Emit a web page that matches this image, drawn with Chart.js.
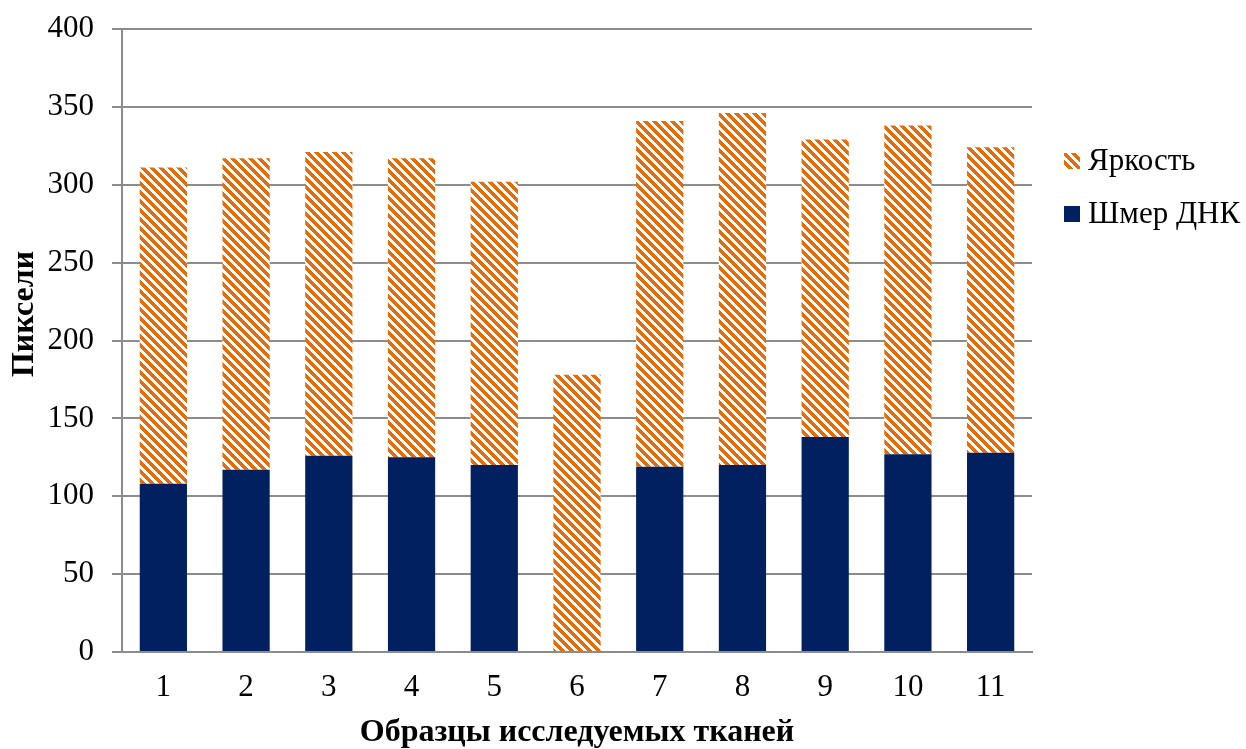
<!DOCTYPE html>
<html>
<head>
<meta charset="utf-8">
<script src="https://cdn.jsdelivr.net/npm/chart.js@4/dist/chart.umd.min.js"></script>
<style>
  html, body { margin: 0; padding: 0; background: #ffffff; }
  #wrap { width: 1246px; height: 749px; position: relative; }
</style>
</head>
<body>
<div id="wrap"><canvas id="c" width="1246" height="749"></canvas></div>
<script>
// Tissue samples and their pixel measurements
const categories = ['1', '2', '3', '4', '5', '6', '7', '8', '9', '10', '11'];
const dnaSmear   = [108, 117, 126, 125, 120, 0, 119, 120, 138, 127, 128];
const brightness = [203, 200, 195, 192, 182, 178, 222, 226, 191, 211, 196];
const yTicks     = [0, 50, 100, 150, 200, 250, 300, 350, 400];

const seriesNames = { smear: 'Шмер ДНК', bright: 'Яркость' };
const axisTitles  = { x: 'Образцы исследуемых тканей', y: 'Пиксели' };

const NAVY = '#002060';
const ORANGE = '#E46C0A';
const GRID = '#8c8c8c';
const FONT = '"Liberation Serif", "Times New Roman", serif';

// Diagonal hatch (top-left to bottom-right stripes)
function makeHatch() {
  const size = 9;
  const pc = document.createElement('canvas');
  pc.width = size; pc.height = size;
  const g = pc.getContext('2d');
  g.fillStyle = '#ffffff';
  g.fillRect(0, 0, size, size);
  g.fillStyle = ORANGE;
  for (let y = 0; y < size; y++) {
    for (let x = 0; x < size; x++) {
      if (((x - y) % size + size) % size < 5) g.fillRect(x, y, 1, 1);
    }
  }
  return g.createPattern(pc, 'repeat');
}
const ctxMain = document.getElementById('c').getContext('2d');
const hatch = makeHatch();

// Legend and y-axis title drawn at fixed spots beside the plot
const sideText = {
  id: 'sideText',
  afterDraw(chart) {
    const ctx = chart.ctx;
    ctx.save();
    // y axis title
    ctx.translate(25, 314);
    ctx.rotate(-Math.PI / 2);
    ctx.font = 'bold 32px ' + FONT;
    ctx.fillStyle = '#000';
    ctx.textAlign = 'center';
    ctx.textBaseline = 'middle';
    ctx.fillText(axisTitles.y, 0, 0);
    ctx.restore();

    // legend: reversed order, top series first
    const items = chart.data.datasets.slice().reverse();
    ctx.save();
    ctx.font = '31px ' + FONT;
    ctx.textBaseline = 'middle';
    ctx.textAlign = 'left';
    items.forEach((ds, i) => {
      const cy = 161 + i * 53;
      ctx.fillStyle = ds.backgroundColor;
      ctx.fillRect(1064, cy - 8, 16, 16);
      ctx.fillStyle = '#000';
      ctx.fillText(ds.label, 1088, cy + 1);
    });
    ctx.restore();
  }
};

new Chart(ctxMain, {
  type: 'bar',
  data: {
    labels: categories,
    datasets: [
      {
        label: seriesNames.smear,
        data: dnaSmear,
        backgroundColor: NAVY,
        borderWidth: 0,
        categoryPercentage: 1.0,
        barPercentage: 0.571
      },
      {
        label: seriesNames.bright,
        data: brightness,
        backgroundColor: hatch,
        borderWidth: 0,
        categoryPercentage: 1.0,
        barPercentage: 0.571
      }
    ]
  },
  options: {
    responsive: false,
    animation: false,
    layout: { padding: { top: 29, right: 214, bottom: 0, left: 0 } },
    plugins: {
      legend: { display: false },
      tooltip: { enabled: false }
    },
    scales: {
      x: {
        stacked: true,
        grid: { display: false, drawTicks: false },
        border: { display: true, color: GRID, width: 2 },
        ticks: { color: '#000', font: { family: FONT, size: 31 }, padding: 17 },
        title: {
          display: true,
          text: axisTitles.x,
          color: '#000',
          font: { family: FONT, size: 32, weight: 'bold' },
          padding: { top: 2, bottom: -3 }
        },
        afterFit(scale) { scale.height = 97; }
      },
      y: {
        stacked: true,
        min: 0,
        max: 400,
        afterBuildTicks(scale) { scale.ticks = yTicks.map(v => ({ value: v })); },
        grid: { color: GRID, lineWidth: 2, drawTicks: true, tickLength: 10, tickColor: GRID },
        border: { display: true, color: GRID, width: 2 },
        ticks: { color: '#000', font: { family: FONT, size: 31 }, padding: 18 },
        afterFit(scale) {
          scale.width = 122;
          scale.paddingTop = 0;
          scale.paddingBottom = 0;
        }
      }
    }
  },
  plugins: [sideText]
});
</script>
</body>
</html>
